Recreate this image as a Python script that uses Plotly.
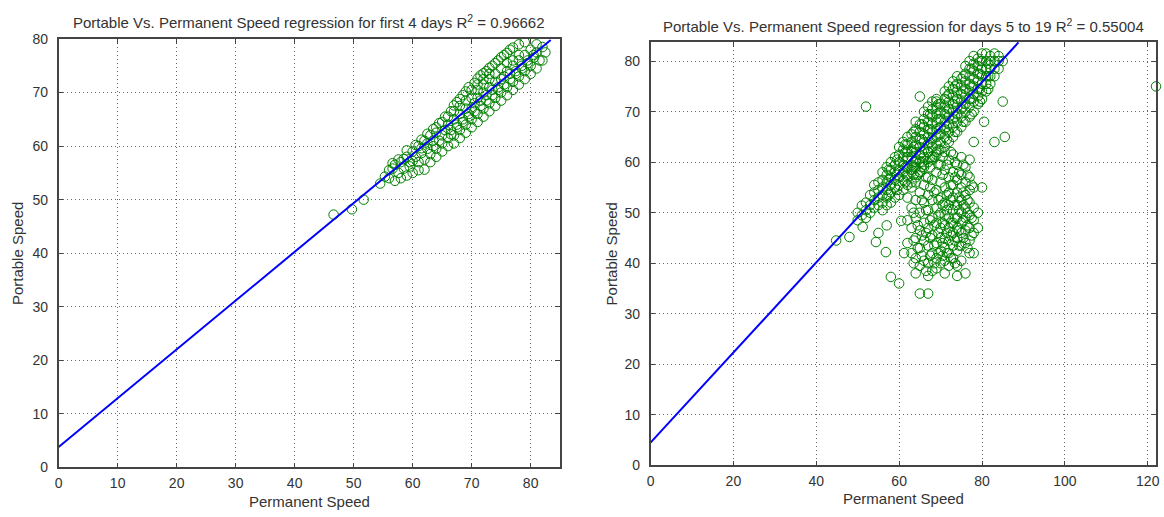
import plotly.graph_objects as go

# ---------------- Left panel: first 4 days ----------------
left_cols_x = [46.6, 49.7, 51.7, 54.5, 55.3, 56.0, 56.6, 57.0, 57.6, 58.0, 58.5, 59.0, 59.5,
               60.0, 60.5, 61.0, 61.5, 62.0, 62.5, 63.0, 63.5, 64.0, 64.5, 65.0, 65.5, 66.0,
               66.5, 67.0, 67.5, 68.0, 68.5, 69.0, 69.5, 70.0, 70.5, 71.0, 71.5, 72.0, 72.5,
               73.0, 73.5, 74.0, 74.5, 75.0, 75.5, 76.0, 76.5, 77.0, 77.5, 78.0, 78.5, 79.0,
               79.5, 80.0, 80.5, 81.0, 81.5, 82.0, 82.5, 80.6, 82.9, 84.6]
left_cols_y = [[47.2], [48.2], [50.0], [53.0], [54.3], [54.0, 55.5], [55.8, 56.8], [53.5, 56.5],
               [55.0, 57.5], [54.0, 57.0], [55.8, 57.6], [54.5, 58.0, 59.2], [56.2, 57.0],
               [55.0, 57.2, 59.0], [58.0, 60.2], [55.5, 57.0, 60.0], [58.7, 59.6, 61.2],
               [55.6, 57.5, 61.0], [59.5, 60.5, 62.3], [57.0, 58.5, 62.0], [60.0, 61.0, 63.2],
               [58.0, 59.5, 62.5, 63.5], [61.0, 64.3], [59.0, 60.5, 62.0, 64.5], [63.0, 65.5],
               [60.0, 61.5, 64.0, 65.5], [63.0, 62.2, 66.5], [60.5, 62.0, 65.0, 66.5, 67.6],
               [63.5, 64.0, 68.2], [61.5, 63.0, 66.0, 67.5, 68.8], [64.5, 65.0, 69.5],
               [62.5, 64.0, 67.0, 68.5, 70.2], [65.5, 66.0, 71.0], [63.5, 65.0, 67.0, 69.0, 70.5],
               [66.5, 68.0, 71.8], [64.5, 66.0, 69.0, 70.5, 71.5, 72.6], [67.5, 68.5, 73.2],
               [65.5, 67.0, 70.0, 71.5, 72.5, 73.6], [68.5, 69.5, 74.0],
               [66.5, 68.0, 71.0, 72.5, 73.5, 74.6], [69.5, 70.5, 75.0], [67.5, 69.0, 72.0, 73.5, 75.5],
               [70.5, 71.0, 76.0], [68.5, 70.0, 72.5, 74.5, 76.6], [71.5, 73.0, 77.0],
               [69.5, 71.0, 74.0, 75.5, 77.4], [72.5, 73.5, 78.0], [70.5, 72.0, 75.0, 76.0, 78.4],
               [73.5, 74.0], [71.5, 73.0, 76.0, 77.0, 79.0], [74.5, 75.0], [72.5, 74.0, 77.0, 79.4],
               [75.5, 76.0], [73.5, 75.0, 78.0], [76.5, 77.0], [74.5, 77.5, 79.0], [76.0],
               [76.0, 78.5], [77.5], [80.4], [80.4], [80.4]]
left_fit_x = [0, 83.4]
left_fit_y = [3.8, 79.8]

# ---------------- Right panel: days 5 to 19 ----------------
right_band_cols_x = [50, 51, 52, 53, 54, 55, 56, 57, 58, 59, 60, 61, 62, 63, 64, 65, 66, 67, 68,
                     69, 70, 71, 72, 73, 74, 75, 76, 77, 78, 79, 80, 81, 82, 83, 84, 85, 87,
                     57.5, 59.5, 61.5, 63.5, 65.5, 67.5, 69.5, 71.5, 73.5, 75.5, 77.5, 79.5, 81.5]
right_band_cols_y = [[48.5, 50], [49.5, 51.4], [49, 50.5, 52], [50, 51.5, 53.5],
                     [51, 52.5, 54, 55.5], [51.5, 53, 54.5, 56],
                     [50.5, 52, 53.5, 55, 56.5, 58], [51.5, 53, 54.5, 56, 57.5, 59],
                     [52, 54, 55.5, 57, 58.5, 60], [53, 55, 56.5, 58, 59.5, 61],
                     [53.5, 55.5, 57, 58.5, 60, 61.5, 63], [54.5, 56.5, 58, 59.5, 61, 62.5, 64],
                     [55.5, 57.5, 59, 60.5, 62, 63.5, 65], [56, 58, 59.5, 61, 62.5, 64, 65.5],
                     [57, 59, 60.5, 62, 63.5, 65, 66.5, 68], [58, 60, 61.5, 63, 64.5, 66, 67.5],
                     [59, 61, 62.5, 64, 65.5, 67, 68.5, 70], [60, 62, 63.5, 65, 66.5, 68, 69.5, 71],
                     [61, 63, 64.5, 66, 67.5, 69, 70.5, 72], [62, 63.5, 65, 66.5, 68, 69.5, 71, 72.5],
                     [62.5, 64, 65.5, 67, 68.5, 70, 71.5], [63, 65, 66.5, 68, 69.5, 71, 72.5, 74],
                     [64, 66, 67.5, 69, 70.5, 72, 73.5, 75], [65, 67, 68.5, 70, 71.5, 73, 74.5, 76],
                     [66, 68, 69.5, 71, 72.5, 74, 75.5, 77], [67, 69, 70.5, 72, 73.5, 75, 76.5],
                     [68, 70, 71.5, 73, 74.5, 76, 77.5, 79], [69, 71, 72.5, 74, 75.5, 77, 78.5, 80],
                     [70, 72, 73.5, 75, 76.5, 78, 79.5, 81], [71.5, 73, 74.5, 76, 77.5, 79, 80.5],
                     [72.5, 74, 75.5, 77, 78.5, 80, 81.5], [74, 75.5, 77, 78.5, 80, 81.5],
                     [75.5, 77, 78.5, 80, 81], [77, 78.5, 80, 81.5], [78.5, 80, 81], [80], [84],
                     [53.5, 56.5, 58.5], [54.5, 57.5, 60.5], [56, 59, 62, 63.5], [57.5, 60, 63, 66],
                     [59, 62, 64.5, 67.5], [61, 64, 66.5, 69.5], [62.5, 65.5, 68.5, 71.5],
                     [64.5, 67, 70, 73], [66, 69, 72, 75], [68, 71, 74, 77], [69.5, 72.5, 75, 78.5],
                     [72, 74.5, 77.5, 80], [74.5, 77, 79.5], [77.5, 80.5]]

right_cluster_cols_x = [62, 63, 64, 65, 66, 67, 68, 69, 70, 71, 72, 73, 74, 75, 76, 77, 78, 79, 80,
                        63.5, 64.5, 65.5, 66.5, 67.5, 68.5, 69.5, 70.5, 71.5, 72.5, 73.5, 74.5,
                        75.5, 76.5, 77.5]
right_cluster_cols_y = [[61, 57, 53, 48.5, 44], [62, 58.5, 55, 51, 47, 42],
                        [60, 56, 52.5, 49, 45, 41, 38], [61.5, 58, 54, 50, 46.5, 43, 39.5, 34],
                        [59.5, 55.5, 52, 48, 44.5, 40.5],
                        [62, 57, 53.5, 50.5, 47, 43.5, 40, 37.5, 34],
                        [60.5, 56.5, 52.5, 49, 45.5, 42, 38.5],
                        [61.5, 58, 54.5, 51, 48, 44, 41, 39],
                        [59.5, 56, 53, 50, 47, 45, 42.5, 40],
                        [62, 58.5, 55, 52, 49.5, 47.5, 45, 43, 40.5, 38],
                        [60.5, 57, 54, 51.5, 49, 47, 44.5, 42, 39.5],
                        [61.5, 58, 55.5, 53, 50.5, 48, 46, 43.5, 41],
                        [59.5, 56.5, 54, 51.5, 49, 47, 45, 42.5, 39.5, 37.5],
                        [61, 57.5, 55, 52.5, 50, 48, 46, 43.5, 40.5],
                        [59, 56, 53.5, 51, 49, 46.5, 44, 38],
                        [60.5, 57, 54.5, 52, 49.5, 47, 44.5, 42],
                        [55, 51, 48.5, 46, 42], [50, 47], [55],
                        [59, 50, 44.5, 40], [57.5, 47.5, 43], [60, 52.5, 45.5, 41.5],
                        [57, 50.5, 46, 38.5], [59, 55, 48.5, 45, 41.5], [61, 54, 47.5, 43.5, 40],
                        [59.5, 52.5, 49.5, 46, 42], [61, 57.5, 51.5, 48, 44, 41.5],
                        [59.5, 53.5, 50.5, 46, 42], [62, 55.5, 52.5, 48, 45.5, 41],
                        [60, 57, 51.5, 49, 44.5, 40], [58, 53, 50.5, 46.5, 43.5],
                        [59.5, 54, 51.5, 48.5, 45], [57.5, 52.5, 50, 47.5, 43], [55.5, 49, 45.5]]

right_outlier_x = [52, 65, 69, 85, 80.5, 85.5, 83, 78, 122, 58, 60, 61.2, 54.4, 56.8, 48,
                   44.8, 51.2, 60.5, 55, 57]
right_outlier_y = [71, 73, 72, 72, 68, 65, 64, 64, 75, 37.3, 36, 42, 44.2, 42.2, 45.2,
                   44.5, 47.2, 48.4, 46, 47.5]

right_fit_x = [0, 88.8]
right_fit_y = [4.5, 83.7]

titles = ["Portable Vs. Permanent Speed regression for first 4 days R<sup>2</sup> = 0.96662",
          "Portable Vs. Permanent Speed regression for days 5 to 19 R<sup>2</sup> = 0.55004"]
x_title = "Permanent Speed"
y_title = "Portable Speed"


def flatten(cols_x, cols_y):
    xs, ys = [], []
    for x, col in zip(cols_x, cols_y):
        for y in col:
            xs.append(x)
            ys.append(y)
    return xs, ys


lx, ly = flatten(left_cols_x, left_cols_y)
bx, by = flatten(right_band_cols_x, right_band_cols_y)
cx, cy = flatten(right_cluster_cols_x, right_cluster_cols_y)
rx = bx + cx + right_outlier_x
ry = by + cy + right_outlier_y

GREEN = "#008000"
BLUE = "#0000ff"
FONT = "Arial, Liberation Sans, sans-serif"
marker = dict(symbol="circle-open", size=9.5, color=GREEN, line=dict(width=1, color=GREEN))

fig = go.Figure()
fig.add_trace(go.Scatter(x=lx, y=ly, mode="markers", marker=marker, cliponaxis=False,
                         xaxis="x", yaxis="y", showlegend=False))
fig.add_trace(go.Scatter(x=left_fit_x, y=left_fit_y, mode="lines", line=dict(color=BLUE, width=2),
                         xaxis="x", yaxis="y", showlegend=False))
fig.add_trace(go.Scatter(x=rx, y=ry, mode="markers", marker=marker, cliponaxis=False,
                         xaxis="x2", yaxis="y2", showlegend=False))
fig.add_trace(go.Scatter(x=right_fit_x, y=right_fit_y, mode="lines", line=dict(color=BLUE, width=2),
                         xaxis="x2", yaxis="y2", showlegend=False))

W, H = 1164, 517
L = dict(x0=55, x1=560, y0=32, y1=474)
R = dict(x0=651, x1=1160, y0=35, y1=472)

axis_common = dict(showline=True, linecolor="#444444", linewidth=1.5, mirror="allticks",
                   ticks="inside", ticklen=5, tickcolor="#444444", tickwidth=1,
                   showgrid=True, gridcolor="#666666", griddash="1px,3px", gridwidth=1,
                   zeroline=False, fixedrange=True,
                   tickfont=dict(family=FONT, size=14, color="#333333"))

fig.update_layout(
    width=W, height=H, margin=dict(l=0, r=0, t=0, b=0),
    paper_bgcolor="white", plot_bgcolor="white",
    xaxis=dict(axis_common, domain=[L["x0"] / W, L["x1"] / W], range=[0, 85],
               tickvals=list(range(0, 90, 10)), anchor="y", ticklabelstandoff=2),
    yaxis=dict(axis_common, domain=[1 - L["y1"] / H, 1 - L["y0"] / H], range=[0, 80],
               tickvals=list(range(0, 90, 10)), anchor="x", ticklabelstandoff=6),
    xaxis2=dict(axis_common, domain=[R["x0"] / W, R["x1"] / W], range=[0, 122],
                tickvals=list(range(0, 140, 20)), anchor="y2", ticklabelstandoff=2),
    yaxis2=dict(axis_common, domain=[1 - R["y1"] / H, 1 - R["y0"] / H], range=[0, 83.8],
                tickvals=list(range(0, 90, 10)), anchor="x2", ticklabelstandoff=6),
)

ann_font = dict(family=FONT, size=15, color="#333333")
title_font = dict(family=FONT, size=15, color="#333333")
annotations = [
    dict(text=titles[0], x=(L["x0"] + L["x1"]) / 2 / W, y=1 - 14 / H, font=title_font),
    dict(text=titles[1], x=(R["x0"] + R["x1"]) / 2 / W, y=1 - 18 / H, font=title_font),
    dict(text=x_title, x=(L["x0"] + L["x1"]) / 2 / W, y=1 - 509 / H, font=ann_font),
    dict(text=x_title, x=(R["x0"] + R["x1"]) / 2 / W, y=1 - 506 / H, font=ann_font),
    dict(text=y_title, x=13 / W, y=1 - (L["y0"] + L["y1"]) / 2 / H, font=ann_font, textangle=-90),
    dict(text=y_title, x=612 / W, y=1 - (R["y0"] + R["y1"]) / 2 / H, font=ann_font, textangle=-90),
]
for a in annotations:
    a.update(xref="paper", yref="paper", showarrow=False, xanchor="center", yanchor="middle")
fig.update_layout(annotations=annotations)

fig.write_html("out.html")
